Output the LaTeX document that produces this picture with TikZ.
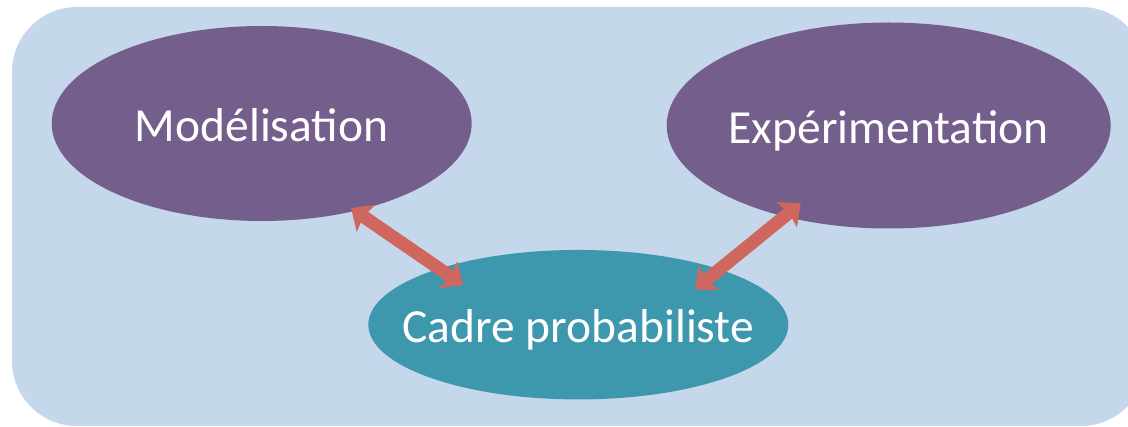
\documentclass[tikz,border=0pt]{standalone}
\usepackage{fontspec}
\setmainfont{Carlito}
\usetikzlibrary{shapes.geometric,arrows.meta}
\definecolor{bgblue}{HTML}{C5D7EB}
\definecolor{purp}{HTML}{745E8C}
\definecolor{teal2}{HTML}{3D97AD}
\definecolor{arrowred}{HTML}{CF675E}
\tikzset{
  bubble/.style={ellipse, inner sep=0pt, text=white, font=\fontsize{47.5}{56}\selectfont,
     text height=36pt, text depth=0pt},
  link/.style={draw=arrowred, line width=13pt,
     {Stealth[length=18pt,width=32pt,inset=3pt]}-{Stealth[length=18pt,width=32pt,inset=3pt]}}
}
\begin{document}
\begin{tikzpicture}[x=1pt,y=-1pt]
\useasboundingbox (0,0) rectangle (1128,427);
\begin{scope}
\clip (0,0) rectangle (1128,427);
\fill[bgblue, rounded corners=65pt] (12,7) rectangle (1146,426);
\end{scope}
\node[bubble, fill=purp, minimum width=420pt, minimum height=195pt] (m) at (261.7,123.5) {\makebox[0pt]{Modélisation}};
\node[bubble, fill=purp, minimum width=444pt, minimum height=206pt] (e) at (888.7,125.5) {\makebox[0pt]{Expérimentation}};
\node[bubble, fill=teal2, minimum width=420pt, minimum height=149.5pt] (c) at (578.3,324.7) {\makebox[0pt]{Cadre probabiliste}};
\coordinate (mtip) at (351,208);
\coordinate (cltip) at (463,285);
\coordinate (etip) at (800.7,203.3);
\coordinate (crtip) at (695,289.3);
\draw[link] (mtip) -- (cltip);
\draw[link] (crtip) -- (etip);
\end{tikzpicture}
\end{document}
